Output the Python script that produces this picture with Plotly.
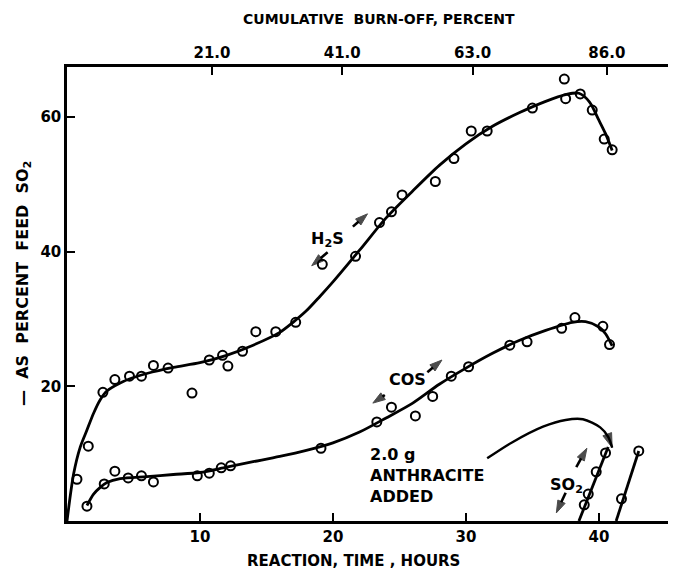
import plotly.graph_objects as go

# ---- data (reaction time in hours, % of feed SO2) ----
h2s_hours = [0.75, 1.6, 2.7, 3.6, 4.7, 5.6, 6.5, 7.6, 9.4, 10.7, 11.7, 12.1, 13.2, 14.2, 15.7, 17.2,
             19.2, 21.7, 23.5, 24.4, 25.2, 27.7, 29.1, 30.4, 31.6, 35.0, 37.4, 37.5, 38.6, 39.5, 40.4, 41.0]
h2s_pct = [6.2, 11.1, 19.1, 21.0, 21.5, 21.5, 23.1, 22.7, 19.0, 23.9, 24.6, 23.0, 25.2, 28.1, 28.1, 29.5,
           38.1, 39.3, 44.3, 45.9, 48.4, 50.4, 53.8, 57.9, 57.9, 61.3, 65.6, 62.7, 63.4, 61.0, 56.7, 55.1]

h2s_curve_hours = [0, 0.5, 1, 1.5, 2, 2.5, 3, 4, 5, 6, 8, 10, 12, 14, 16, 17, 18, 19, 20, 22, 24, 26, 28,
                   30, 32, 34, 36, 37.5, 38.5, 39.3, 40, 40.5, 41]
h2s_curve_pct = [0, 7, 11, 13.5, 16, 18, 19.3, 20.5, 21.3, 21.9, 22.8, 23.5, 24.6, 26.1, 28, 29.5, 31.2,
                 33.3, 35.5, 40.2, 45, 49, 52.8, 56, 58.6, 60.6, 62.3, 63.3, 63.5, 62.2, 59.5, 57.5, 55]

cos_hours = [1.5, 2.8, 3.6, 4.6, 5.6, 6.5, 9.8, 10.7, 11.6, 12.3, 19.1, 23.3, 24.4, 26.2, 27.5, 28.9,
             30.2, 33.3, 34.6, 37.2, 38.2, 40.3, 40.8]
cos_pct = [2.2, 5.5, 7.4, 6.4, 6.7, 5.8, 6.7, 7.1, 7.9, 8.2, 10.8, 14.7, 16.9, 15.6, 18.5, 21.5,
           22.9, 26.1, 26.6, 28.6, 30.2, 28.9, 26.2]

cos_curve_hours = [1.5, 2, 2.5, 3, 4, 6, 8, 10, 12, 14, 16, 18, 20, 22, 24, 26, 28, 30, 32, 34, 36,
                   38, 39, 40, 40.5, 41]
cos_curve_pct = [2.3, 4, 5, 5.7, 6.3, 6.6, 6.9, 7.2, 8, 8.8, 9.6, 10.5, 11.6, 13.2, 15.3, 17.5, 20.3,
                 22.7, 24.9, 26.8, 28.3, 29.5, 29.6, 28.8, 27.8, 26]

so2_a_hours = [38.9, 39.2, 39.8, 40.5]
so2_a_pct = [2.4, 4.0, 7.3, 10.1]
so2_a_line_hours = [38.5, 40.7]
so2_a_line_pct = [0, 11.0]

so2_b_hours = [41.7, 43.0]
so2_b_pct = [3.3, 10.4]
so2_b_line_hours = [41.3, 43.0]
so2_b_line_pct = [0, 10.4]

# curved pointer from "2.0 g ANTHRACITE ADDED"
pointer_hours = [31.6, 33.5, 35.8, 37.5, 38.8, 40.1, 40.7, 41.0]
pointer_pct = [9.3, 11.7, 14.0, 15.0, 15.1, 13.9, 12.5, 10.9]

# small pointer arrows: (tail_h, tail_pct, head_h, head_pct)
pointer_arrows = [
    (19.6, 39.9, 18.4, 37.9),
    (21.5, 43.7, 22.6, 45.6),
    (23.9, 18.7, 23.0, 17.5),
    (27.1, 22.1, 28.2, 23.9),
    (38.3, 8.0, 39.1, 10.8),
    (37.5, 4.2, 36.8, 1.2),
]

bottom_ticks = [10, 20, 30, 40]
left_ticks = [20, 40, 60]
burnoff_tick_pos = [10.9, 20.7, 30.5, 40.6]
burnoff_tick_text = ["21.0", "41.0", "63.0", "86.0"]

FONT = "DejaVu Sans"
BLK = "black"

fig = go.Figure()

def curve(xs, ys, w=2.8):
    fig.add_trace(go.Scatter(x=xs, y=ys, mode="lines",
                             line=dict(color=BLK, width=w, shape="spline", smoothing=0.8),
                             hoverinfo="skip", showlegend=False))

def pts(xs, ys):
    fig.add_trace(go.Scatter(x=xs, y=ys, mode="markers",
                             marker=dict(symbol="circle-open", size=9, color=BLK, line=dict(width=2, color=BLK)),
                             showlegend=False))

curve(h2s_curve_hours, h2s_curve_pct)
curve(cos_curve_hours, cos_curve_pct)
fig.add_trace(go.Scatter(x=so2_a_line_hours, y=so2_a_line_pct, mode="lines", line=dict(color=BLK, width=2.8),
                         showlegend=False))
fig.add_trace(go.Scatter(x=so2_b_line_hours, y=so2_b_line_pct, mode="lines", line=dict(color=BLK, width=2.8),
                         showlegend=False))
# anthracite pointer with arrowhead at its end
fig.add_trace(go.Scatter(x=pointer_hours, y=pointer_pct, mode="lines+markers",
                         line=dict(color=BLK, width=2.4, shape="spline", smoothing=0.8),
                         marker=dict(symbol="arrow", angleref="previous", color=BLK,
                                     line=dict(color=BLK, width=1),
                                     size=[0] * (len(pointer_hours) - 1) + [15]),
                         hoverinfo="skip", showlegend=False))
for th, tp, hh, hp in pointer_arrows:
    fig.add_trace(go.Scatter(x=[th, hh], y=[tp, hp], mode="lines+markers",
                             line=dict(color=BLK, width=2.6),
                             marker=dict(symbol="arrow", angleref="previous", color=BLK,
                                         line=dict(color=BLK, width=1), size=[0, 13]),
                             hoverinfo="skip", showlegend=False))
pts(h2s_hours, h2s_pct)
pts(cos_hours, cos_pct)
pts(so2_a_hours, so2_a_pct)
pts(so2_b_hours, so2_b_pct)

# invisible trace on the top axis so it renders
fig.add_trace(go.Scatter(x=[0], y=[0], xaxis="x2", mode="markers", marker=dict(opacity=0), showlegend=False,
                         hoverinfo="skip"))

X_MAX = 45.8
Y_MAX = 67.4
tickfont = dict(family=FONT, size=15, color=BLK)
axis_common = dict(ticks="inside", ticklen=8, tickwidth=2, tickcolor=BLK, showline=True, linewidth=2.5,
                   linecolor=BLK, showgrid=False, zeroline=False, tickfont=tickfont)

# page body has an 8px offset; figure sized so the plot box lands at x 67..676, y 67..521
fig.update_layout(
    width=668, height=573,
    margin=dict(l=59, r=0, t=59, b=60),
    paper_bgcolor="white", plot_bgcolor="white",
    xaxis=dict(range=[0, X_MAX], tickvals=bottom_ticks, ticktext=[f"<b>{t}</b>" for t in bottom_ticks],
               **axis_common),
    xaxis2=dict(range=[0, X_MAX], overlaying="x", side="top", tickvals=burnoff_tick_pos,
                ticktext=[f"<b>{t}</b>" for t in burnoff_tick_text], **axis_common),
    yaxis=dict(range=[0, Y_MAX], tickvals=left_ticks, ticktext=[f"<b>{t}</b>" for t in left_ticks],
               **axis_common),
)

def px_x(px):
    return (px - 67) / 609.0

def px_y(py):
    return (521 - py) / 454.0

lab = dict(family=FONT, size=14, color=BLK)
ylab = dict(family=FONT, size=16, color=BLK)
anns = [
    dict(text="<b>CUMULATIVE  BURN-OFF, PERCENT</b>", x=px_x(379), y=px_y(19), font=lab),
    dict(text="<b>REACTION, TIME , HOURS</b>", x=px_x(353), y=px_y(561),
         font=dict(family=FONT, size=15, color=BLK)),
    dict(text="<b>—  AS  PERCENT  FEED  SO<sub>2</sub></b>", x=px_x(23), y=px_y(284), textangle=-90,
         font=ylab),
]
for a in anns:
    fig.add_annotation(xref="paper", yref="paper", showarrow=False, xanchor="center", yanchor="middle", **a)

# in-plot labels (data coordinates)
inlab = dict(family=FONT, size=16, color=BLK)
fig.add_annotation(x=19.6, y=41.8, text="<b>H<sub>2</sub>S</b>", showarrow=False, font=inlab)
fig.add_annotation(x=25.6, y=21.0, text="<b>COS</b>", showarrow=False, font=inlab)
fig.add_annotation(x=22.6, y=6.8, text="<b>2.0 g<br>ANTHRACITE<br>ADDED</b>", showarrow=False, font=inlab,
                   align="left", xanchor="left")
fig.add_annotation(x=37.6, y=5.2, text="<b>SO<sub>2</sub></b>", showarrow=False, font=inlab)

fig.write_html("out.html")
